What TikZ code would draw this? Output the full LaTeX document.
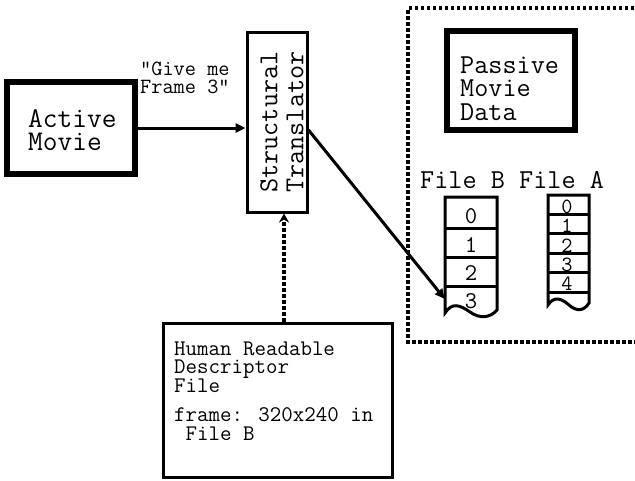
\documentclass[tikz,border=0pt]{standalone}
\usetikzlibrary{arrows.meta}
\begin{document}
\begin{tikzpicture}[x=1pt,y=-1pt,
  thickbox/.style={draw, line width=6pt, inner sep=0pt},
  thinbox/.style={draw, line width=3pt, inner sep=0pt},
  dotline/.style={line width=3.5pt, dash pattern=on 3.5pt off 2.5pt},
  arr/.style={line width=3pt, -{Triangle[length=10pt,width=9pt]}},
  lbl/.style={inner sep=0pt, align=left, anchor=base west},
  cell/.style={inner sep=0pt, minimum width=52pt},
  tt/.style={font=\ttfamily\fontsize{#1}{#1}\selectfont},
]
\useasboundingbox (0,0) rectangle (635,480);

% Active movie (text anchored at the baseline of its last line)
\node[thickbox, minimum width=128pt, minimum height=92pt] (active) at (71,128) {};
\node[lbl, font=\ttfamily\fontsize{28.6}{23}\selectfont] (activetxt) at (28,150) {Active\\Movie};

% request label
\node[lbl, font=\ttfamily\fontsize{21.7}{18}\selectfont] (req) at (140,93) {\textquotedbl Give me\\Frame 3\textquotedbl};

% structural translator
\node[thinbox, minimum width=60pt, minimum height=180pt] (trans) at (277,122) {};
\node[rotate=90, align=center, inner sep=0pt, font=\ttfamily\fontsize{27.4}{26}\selectfont] (transtxt) at (282,122) {Structural\\Translator};

% descriptor file
\node[thinbox, minimum width=229pt, minimum height=154pt] (human) at (277.5,400) {};
\node[lbl, font=\ttfamily\fontsize{22.3}{18.7}\selectfont] (humantxt) at (174,440)
  {Human Readable\\Descriptor\\File\\[10pt]frame: 320x240 in\\\ File B};

% passive movie data region
\draw[dotline] (640,8) -- (408,8) -- (408,342) -- (640,342);
\node[thickbox, minimum width=128pt, minimum height=99pt] (passive) at (511,80.5) {};
\node[lbl, font=\ttfamily\fontsize{27.4}{23.5}\selectfont] (passivetxt) at (460,120) {Passive\\Movie\\Data};

% file labels
\node[lbl, tt=27.4] (fileb) at (420,188) {File B};
\node[lbl, tt=27.4] (filea) at (519,188) {File A};

% file B frames
\draw[line width=3pt] (445,286) -- (445,313)
  .. controls (452,302) and (460,305) .. (470,312)
  .. controls (480,319) and (490,318) .. (497,310)
  -- (497,197) -- (445,197) -- cycle;
\foreach \y in {228,257,286} \draw[line width=3pt] (445,\y) -- (497,\y);
\begin{scope}[tt=24]
\node[cell, minimum height=31pt] (b0) at (471,212.5) {};
\node[cell, minimum height=29pt] (b1) at (471,242.5) {};
\node[cell, minimum height=29pt] (b2) at (471,271.5) {};
\node[cell, minimum height=26pt] (b3) at (471,299) {};
\node[anchor=base, inner sep=0pt] (b0n) at (471,223) {0};
\node[anchor=base, inner sep=0pt] (b1n) at (471,252) {1};
\node[anchor=base, inner sep=0pt] (b2n) at (471,280) {2};
\node[anchor=base, inner sep=0pt] (b3n) at (471,308) {3};
\end{scope}

% file A frames
\draw[line width=3pt] (548,292) -- (548,305)
  .. controls (554,296) and (561,298) .. (569,305)
  .. controls (577,312) and (584,311) .. (589,303)
  -- (589,195) -- (548,195) -- cycle;
\foreach \y in {214,233,253,272,292} \draw[line width=3pt] (548,\y) -- (589,\y);
\begin{scope}[tt=21.7]
\node[anchor=base, inner sep=0pt] (a0) at (567,213) {0};
\node[anchor=base, inner sep=0pt] (a1) at (567,232) {1};
\node[anchor=base, inner sep=0pt] (a2) at (567,252) {2};
\node[anchor=base, inner sep=0pt] (a3) at (567,271) {3};
\node[anchor=base, inner sep=0pt] (a4) at (567,290) {4};
\end{scope}

% connectors
\draw[arr] (active.east) -- (active.east -| trans.west);
\draw[arr] ([yshift=-8pt]trans.east) -- (b3.west);
\draw[dotline, -{Stealth[length=9pt,width=10pt]}] ([xshift=7pt]trans.south |- human.north) -- ([xshift=7pt]trans.south);
\end{tikzpicture}
\end{document}
